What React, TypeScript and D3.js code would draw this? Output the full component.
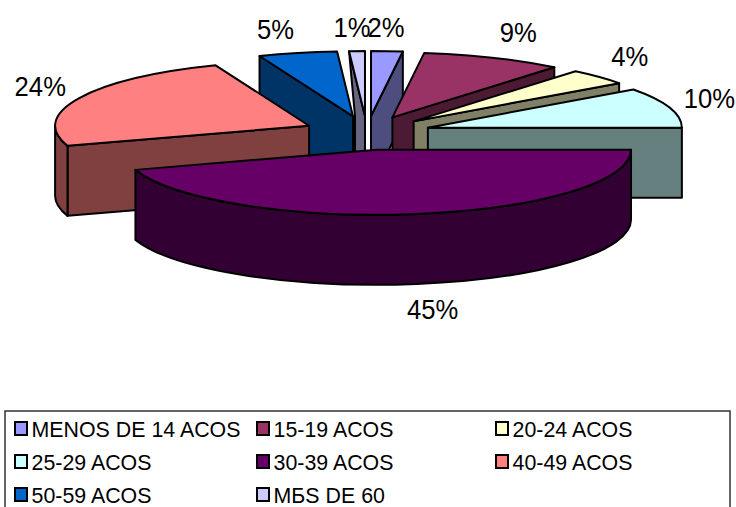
import * as d3 from "d3";

// Share of each age band, clockwise from twelve o'clock
const categories = [
  "MENOS DE 14 ACOS",
  "15-19 ACOS",
  "20-24 ACOS",
  "25-29 ACOS",
  "30-39 ACOS",
  "40-49 ACOS",
  "50-59 ACOS",
  "MБS DE 60",
];
const shares = [2, 9, 4, 10, 45, 24, 5, 1];
const fills = ["#9999FF", "#993366", "#FFFFCC", "#CCFFFF", "#660066", "#FF8080", "#0066CC", "#CCCCFF"];

// Label placement relative to the rim point at each slice's mid angle
const labelNudges: [number, number][] = [
  [-1, -23], [25, -25], [31, -20], [40, -9], [16, 26], [-39, -11], [-22, -23], [-5, -23],
];

// Slices nearest the viewer are painted last
const paintOrder = [6, 7, 0, 1, 2, 3, 5, 4];

const WIDTH = 736;
const HEIGHT = 507;
const cx = 367;
const cy = 133;
const rx = 254;
const ry = 65;
const depth = 70;
const explodeX = 64;
const explodeY = 17;

const wallColor = (fill: string) => {
  const c = d3.rgb(fill);
  return d3.rgb(c.r * 0.5, c.g * 0.5, c.b * 0.5).formatHex();
};

const rim = (ox: number, oy: number, a: number): [number, number] => [
  ox + rx * Math.sin(a),
  oy - ry * Math.cos(a),
];

const arcs = d3.pie<number>().sort(null)(shares);

const slices = arcs.map((arc, i) => {
  const mid = (arc.startAngle + arc.endAngle) / 2;
  const ox = cx + explodeX * Math.sin(mid);
  const oy = cy - explodeY * Math.cos(mid);
  return { i, a0: arc.startAngle, a1: arc.endAngle, mid, ox, oy };
});

type Slice = (typeof slices)[number];

const topPath = ({ a0, a1, ox, oy }: Slice) => {
  const [x0, y0] = rim(ox, oy, a0);
  const [x1, y1] = rim(ox, oy, a1);
  const large = a1 - a0 > Math.PI ? 1 : 0;
  return `M${ox},${oy}L${x0},${y0}A${rx},${ry} 0 ${large} 1 ${x1},${y1}Z`;
};

// Cut face from the apex out to the rim at angle a, dropped by the pie's thickness
const facePath = (s: Slice, a: number) => {
  const [x, y] = rim(s.ox, s.oy, a);
  const narrow = s.a1 - s.a0 < 0.1 && a > Math.PI;
  const line = d3.line();
  if (narrow) {
    // The thinnest wedge's wall tapers in toward its apex
    const innerX = s.ox - 10;
    return line([
      [x, y],
      [s.ox, s.oy],
      [s.ox, s.oy + depth],
      [innerX, s.oy + depth],
      [innerX, s.oy],
    ]) + "Z";
  }
  return line([
    [x, y],
    [s.ox, s.oy],
    [s.ox, s.oy + depth],
    [x, y + depth],
  ]) + "Z";
};

// Curved outer wall, limited to the front half of the rim
const outerPath = (s: Slice) => {
  const a0 = Math.max(s.a0, Math.PI / 2);
  const a1 = Math.min(s.a1, (3 * Math.PI) / 2);
  if (a1 <= a0) return null;
  const [x0, y0] = rim(s.ox, s.oy, a0);
  const [x1, y1] = rim(s.ox, s.oy, a1);
  return (
    `M${x0},${y0}A${rx},${ry} 0 0 1 ${x1},${y1}` +
    `L${x1},${y1 + depth}A${rx},${ry} 0 0 0 ${x0},${y0 + depth}Z`
  );
};

const legendColXs = [15, 257, 496];
const legendRowY = d3.scalePoint<number>().domain([0, 1, 2]).range([429, 495]);

const LINE = { stroke: "#000", strokeWidth: 2, strokeLinejoin: "round" as const };
const FONT = "'Liberation Sans', Arial, sans-serif";

export default function App() {
  return (
    <svg
      width={WIDTH}
      height={HEIGHT}
      viewBox={`0 0 ${WIDTH} ${HEIGHT}`}
      style={{ position: "absolute", left: 0, top: 0, background: "#fff" }}
    >
      <rect x={5} y={411} width={725} height={120} fill="#fff" stroke="#333" strokeWidth={1.5} />

      {paintOrder.map((idx) => {
        const s = slices[idx];
        const wall = wallColor(fills[idx]);
        const showStart = s.a0 >= Math.PI;
        const showEnd = s.a1 <= Math.PI;
        const outer = outerPath(s);
        return (
          <g key={idx}>
            {showStart && <path d={facePath(s, s.a0)} fill={wall} {...LINE} />}
            {showEnd && <path d={facePath(s, s.a1)} fill={wall} {...LINE} />}
            {outer && <path d={outer} fill={wall} {...LINE} />}
            <path d={topPath(s)} fill={fills[idx]} {...LINE} />
          </g>
        );
      })}

      {slices.map((s) => {
        const [x, y] = rim(s.ox, s.oy, s.mid);
        const front = Math.cos(s.mid) < 0 ? depth : 0;
        const [dx, dy] = labelNudges[s.i];
        return (
          <text
            key={s.i}
            transform={`translate(${x + dx},${y + front + dy}) scale(0.95,1)`}
            textAnchor="middle"
            dominantBaseline="central"
            fontFamily={FONT}
            fontSize={27}
            fill="#000"
          >
            {shares[s.i]}%
          </text>
        );
      })}

      {categories.map((name, i) => {
        const x = legendColXs[i % 3];
        const y = legendRowY(Math.floor(i / 3))!;
        return (
          <g key={name}>
            <rect x={x} y={y - 7} width={12} height={13} fill={fills[i]} stroke="#000" strokeWidth={2} />
            <text
              transform={`translate(${x + 16.5},${y}) scale(0.95,1)`}
              dominantBaseline="central"
              fontFamily={FONT}
              fontSize={22.5}
              fill="#000"
            >
              {name}
            </text>
          </g>
        );
      })}
    </svg>
  );
}
